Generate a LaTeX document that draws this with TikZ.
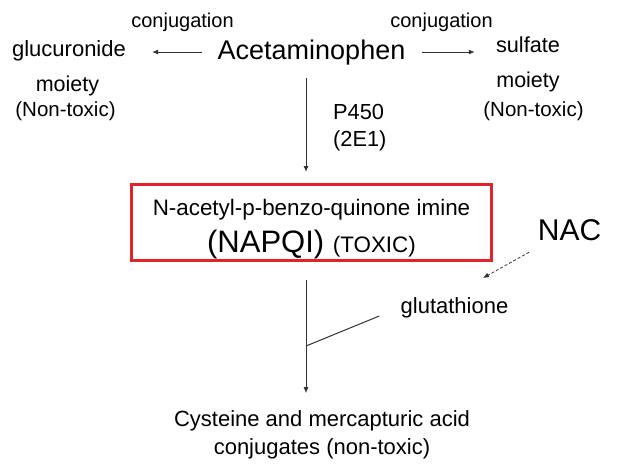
\documentclass[tikz,border=0pt]{standalone}
\usepackage{fontspec}
\setmainfont{Liberation Sans}
\usetikzlibrary{arrows.meta}
\definecolor{boxred}{RGB}{228,32,40}
\definecolor{linegray}{RGB}{50,50,50}
\tikzset{
  % plain text of the pathway, #1 is the font size
  txt/.style={inner sep=0pt, anchor=base, font=\fontsize{#1}{#1}\selectfont},
  % solid arrow between two stages
  flow/.style={draw=linegray, line width=1pt, -{Latex[length=6pt,width=5pt]}},
  % plain joining line
  joinline/.style={draw=linegray, line width=1pt},
}

\begin{document}
\begin{tikzpicture}[x=1pt,y=-1pt]
\useasboundingbox (0,0) rectangle (617,467);
\node[txt=27] (acet) at (311.5,59) {Acetaminophen};
\node[txt=20] (conjL) at (182.5,27) {conjugation};
\node[txt=20] (conjR) at (441.5,27) {conjugation};
\node[txt=22] (gluc) at (69,56) {glucuronide};
\node[txt=21.5] (moiL) at (67.5,91) {moiety};
\node[txt=20.5] (ntoxL) at (65.5,116) {(Non-toxic)};
\node[txt=21.7] (sulf) at (528,52) {sulfate};
\node[txt=21.5] (moiR) at (528,87) {moiety};
\node[txt=20.5] (ntoxR) at (533.5,116) {(Non-toxic)};
\node[inner sep=0pt, anchor=north west, align=left,
  font=\fontsize{21.8}{27}\selectfont] (p450) at (333,104.4) {P450\\(2E1)};
\node[draw=boxred, line width=3pt, minimum width=360pt, minimum height=76pt,
  align=center, text height=59pt, text depth=0pt, font=\fontsize{22.4}{37}\selectfont]
  (napqi) at (311.5,222.5)
  {N-acetyl-p-benzo-quinone imine\\{\fontsize{31}{37}\selectfont (NAPQI) }(TOXIC)};
\node[txt=30] (nac) at (569.5,240) {NAC};
\node[txt=22] (glut) at (454.5,313) {glutathione};
\node[inner sep=0pt, anchor=north, align=center,
  font=\fontsize{22}{28}\selectfont] (conj) at (322,410.2)
  {Cysteine and mercapturic acid\\conjugates (non-toxic)};
\coordinate (mid) at (306,346);
\coordinate (gshtip) at (483,278);

\draw[flow, shorten <=15pt, shorten >=26pt] (acet.west) -- (acet.west -| gluc.east);
\draw[flow, shorten <=16pt, shorten >=21pt] (acet.east) -- (acet.east -| sulf.west);
\draw[flow, shorten <=13.4pt, shorten >=11pt] (acet.south -| mid) -- (napqi.north -| mid);
\draw[flow, shorten <=18pt, shorten >=17pt] (napqi.south -| mid) -- (conj.north -| mid);
\draw[joinline, shorten <=23pt] (glut.west) -- (mid);
\draw[flow, dash pattern=on 3pt off 2pt, line width=0.8pt, shorten <=24pt]
  ([xshift=-19.5pt]nac.south) -- (gshtip);
\end{tikzpicture}
\end{document}
